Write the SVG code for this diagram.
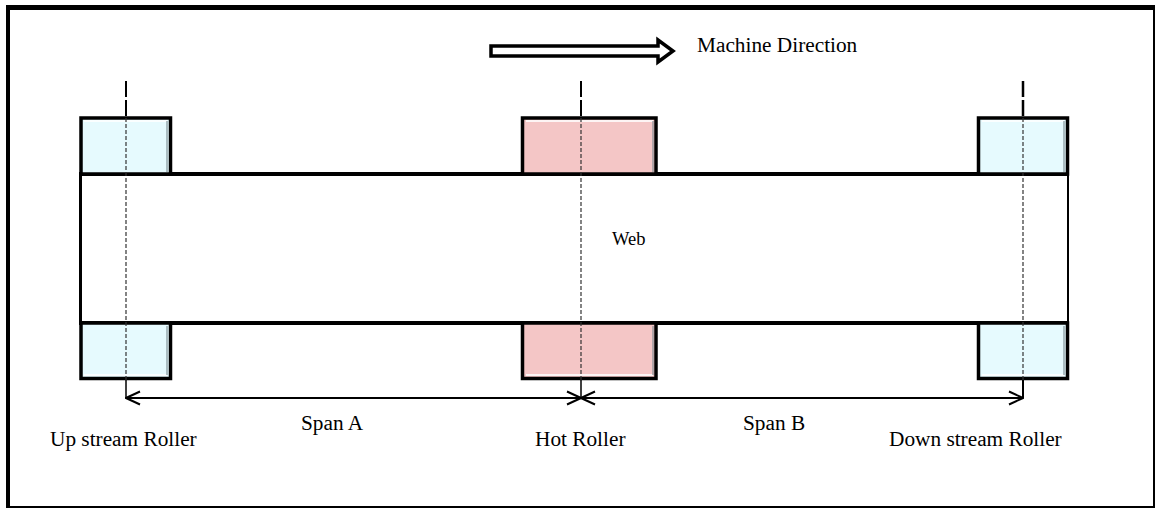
<svg xmlns="http://www.w3.org/2000/svg" width="1155" height="508" viewBox="0 0 1155 508">
<style>
.lbl{font-family:"Liberation Serif","Times New Roman",serif;font-size:21.3px;fill:#000}
.web{font-family:"Liberation Serif","Times New Roman",serif;font-size:18.5px;fill:#000}
.roller{stroke:#000;stroke-width:3.5}
.blue{fill:#E6FAFE}
.pink{fill:#F4C6C6}
.hl{fill:none;stroke:#fff;stroke-width:2;opacity:0.8}
.sh{fill:none;stroke:#7a8a90;stroke-width:2;opacity:0.55}
.dash{stroke:#333;stroke-width:1.2;stroke-dasharray:4 2;fill:none}
.dim{stroke:#000;stroke-width:2;fill:none}
</style>
<defs>
<marker id="open" viewBox="0 0 16 16" refX="15" refY="8" markerWidth="16" markerHeight="16" markerUnits="userSpaceOnUse" orient="auto-start-reverse">
<path d="M1,1.5 L15,8 L1,14.5" fill="none" stroke="#000" stroke-width="2"/>
</marker>
</defs>
<rect x="0" y="0" width="1155" height="508" fill="#fff"/>
<g id="frame">
<rect x="8" y="7" width="1146" height="500" fill="none" stroke="#000" stroke-width="2"/>
<line x1="6" y1="7.5" x2="1155" y2="7.5" stroke="#000" stroke-width="5"/>
<line x1="8" y1="5" x2="8" y2="508" stroke="#000" stroke-width="4"/>
</g>
<g id="web">
<rect x="80.5" y="174" width="987.5" height="149" fill="#fff" stroke="none"/>
<line x1="79" y1="174" x2="1069" y2="174" stroke="#000" stroke-width="4"/>
<line x1="79" y1="323" x2="1069" y2="323" stroke="#000" stroke-width="4"/>
<line x1="80.5" y1="174" x2="80.5" y2="323" stroke="#000" stroke-width="3"/>
<line x1="1068" y1="174" x2="1068" y2="323" stroke="#000" stroke-width="2"/>
<text class="web" x="612" y="245">Web</text>
</g>
<g id="upstream-roller-top">
<rect class="roller blue" x="81" y="118" width="89.5" height="56"/>
<path class="hl" d="M84,121 H167"/>
<path class="sh" d="M167,121 V172"/>
</g>
<g id="upstream-roller-bottom">
<rect class="roller blue" x="81" y="323" width="89.5" height="55.5"/>
<path class="hl" d="M84,375 H167"/>
<path class="sh" d="M167,326 V375"/>
</g>
<g id="hot-roller-top">
<rect class="roller pink" x="522.5" y="118" width="133.5" height="56"/>
<path class="hl" d="M526,121 H653"/>
<path class="sh" d="M653,121 V172"/>
</g>
<g id="hot-roller-bottom">
<rect class="roller pink" x="522.5" y="323" width="133.5" height="55.5"/>
<path class="hl" d="M526,375 H653"/>
<path class="sh" d="M653,326 V375"/>
</g>
<g id="downstream-roller-top">
<rect class="roller blue" x="978.5" y="118" width="89" height="56"/>
<path class="hl" d="M982,121 H1064"/>
<path class="sh" d="M1064,121 V172"/>
</g>
<g id="downstream-roller-bottom">
<rect class="roller blue" x="978.5" y="323" width="89" height="55.5"/>
<path class="hl" d="M982,375 H1064"/>
<path class="sh" d="M1064,326 V375"/>
</g>
<g id="centerlines">
<path d="M126,81 V97 M126,100 V116" stroke="#000" stroke-width="2"/>
<path class="dash" d="M126,118 V380"/>
<path d="M126,380 V398" stroke="#000" stroke-width="1.5"/>
<path d="M581,81 V97 M581,100 V116" stroke="#000" stroke-width="2"/>
<path class="dash" d="M581,118 V380"/>
<path d="M581,380 V398" stroke="#000" stroke-width="1.5"/>
<path d="M1023,81 V97 M1023,100 V116" stroke="#000" stroke-width="2.5"/>
<path class="dash" d="M1023,118 V380"/>
<path d="M1023,380 V398" stroke="#000" stroke-width="2"/>
</g>
<g id="connectors">
<path class="dim" d="M126,398 H581" marker-start="url(#open)" marker-end="url(#open)"/>
<path class="dim" d="M581,398 H1023" marker-start="url(#open)" marker-end="url(#open)"/>
<path d="M491,46 H658 V40 L673,51 L658,62 V56 H491 Z" fill="#fff" stroke="#000" stroke-width="3.5" stroke-linejoin="miter"/>
</g>
<g id="labels">
<text class="lbl" x="697" y="52">Machine Direction</text>
<text class="lbl" x="50" y="446">Up stream Roller</text>
<text class="lbl" x="301" y="430">Span A</text>
<text class="lbl" x="535" y="446">Hot Roller</text>
<text class="lbl" x="743" y="430">Span B</text>
<text class="lbl" x="889" y="446">Down stream Roller</text>
</g>
</svg>
